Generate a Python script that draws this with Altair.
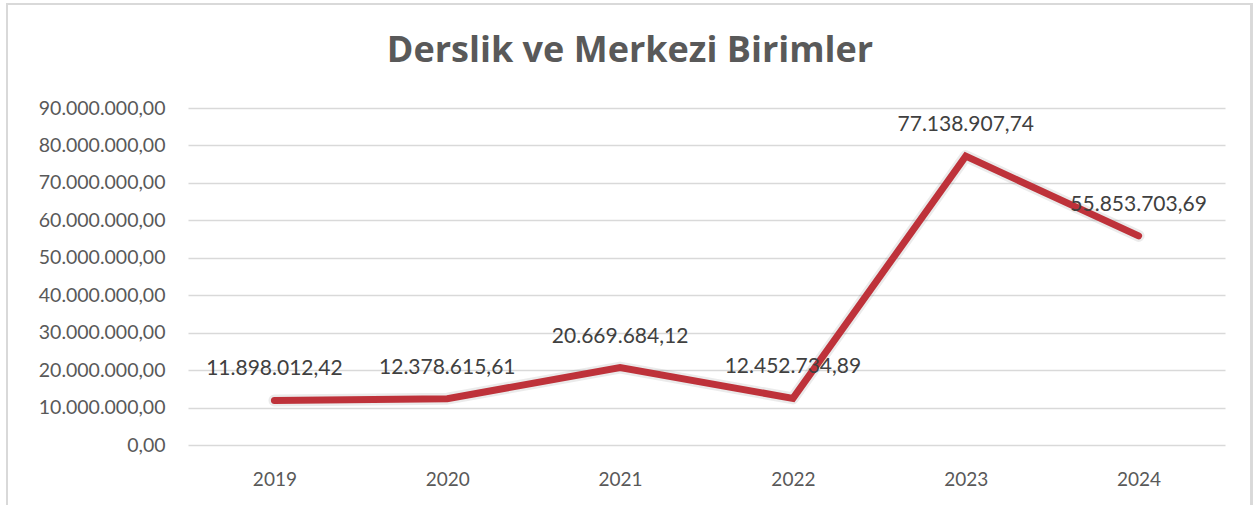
import altair as alt
import pandas as pd

years = ["2019", "2020", "2021", "2022", "2023", "2024"]
values = [11898012.42, 12378615.61, 20669684.12, 12452734.89, 77138907.74, 55853703.69]
y_ticks = [0, 10000000, 20000000, 30000000, 40000000, 50000000, 60000000, 70000000, 80000000, 90000000]
title_text = "Derslik ve Merkezi Birimler"

df = pd.DataFrame({"year": years, "value": values})

FONT = "Lato"
PLOT_L, PLOT_T = 188, 108
W, H = 1037, 337

x = alt.X("year:N", sort=years, title=None,
          scale=alt.Scale(type="point", padding=0.5),
          axis=alt.Axis(labelAngle=0, labelFont=FONT, labelFontSize=19, labelColor="#595959",
                        labelPadding=25, ticks=False, domain=False, grid=False))
y = alt.Y("value:Q", title=None,
          scale=alt.Scale(domain=[0, 90000000], nice=False, zero=True),
          axis=alt.Axis(values=y_ticks, format=",.2f", labelFont=FONT, labelFontSize=19.5,
                        labelColor="#595959", labelPadding=23, ticks=False, domain=False,
                        grid=True, gridColor="#d9d9d9", gridWidth=1.5))

base = alt.Chart(df)

frame = base.mark_rect(fill=None, stroke="#d9d9d9", strokeWidth=2).encode(
    x=alt.value(7 - PLOT_L), x2=alt.value(1251.5 - PLOT_L),
    y=alt.value(4 - PLOT_T), y2=alt.value(520 - PLOT_T)
)

title = alt.Chart(pd.DataFrame({"t": [title_text]})).mark_text(
    font="Open Sans", fontSize=36, fontWeight="bold", color="#595959",
    align="center", baseline="middle"
).encode(x=alt.value(630 - PLOT_L), y=alt.value(51 - PLOT_T), text="t:N")

shadow = base.mark_line(color="#000000", opacity=0.08, strokeWidth=12, strokeJoin="round", strokeCap="round").encode(x=x, y=y)
line = base.mark_line(color="#BE323A", strokeWidth=7, strokeJoin="miter", strokeCap="round").encode(x=x, y=y)
labels = base.mark_text(font=FONT, fontSize=21, color="#404040", dy=-31).encode(
    x=x, y=y, text=alt.Text("value:Q", format=",.2f"))

chart = alt.layer(frame, shadow, line, labels, title).properties(
    width=W, height=H,
    autosize=alt.AutoSizeParams(type="none"),
    padding={"left": PLOT_L, "top": PLOT_T, "right": 1253 - PLOT_L - W, "bottom": 505 - PLOT_T - H},
).configure(
    view={"stroke": None},
    locale={"number": {"decimal": ",", "thousands": ".", "grouping": [3], "currency": ["", ""]}}
)

chart.save("out.html", embed_options={"renderer": "svg", "actions": False})
